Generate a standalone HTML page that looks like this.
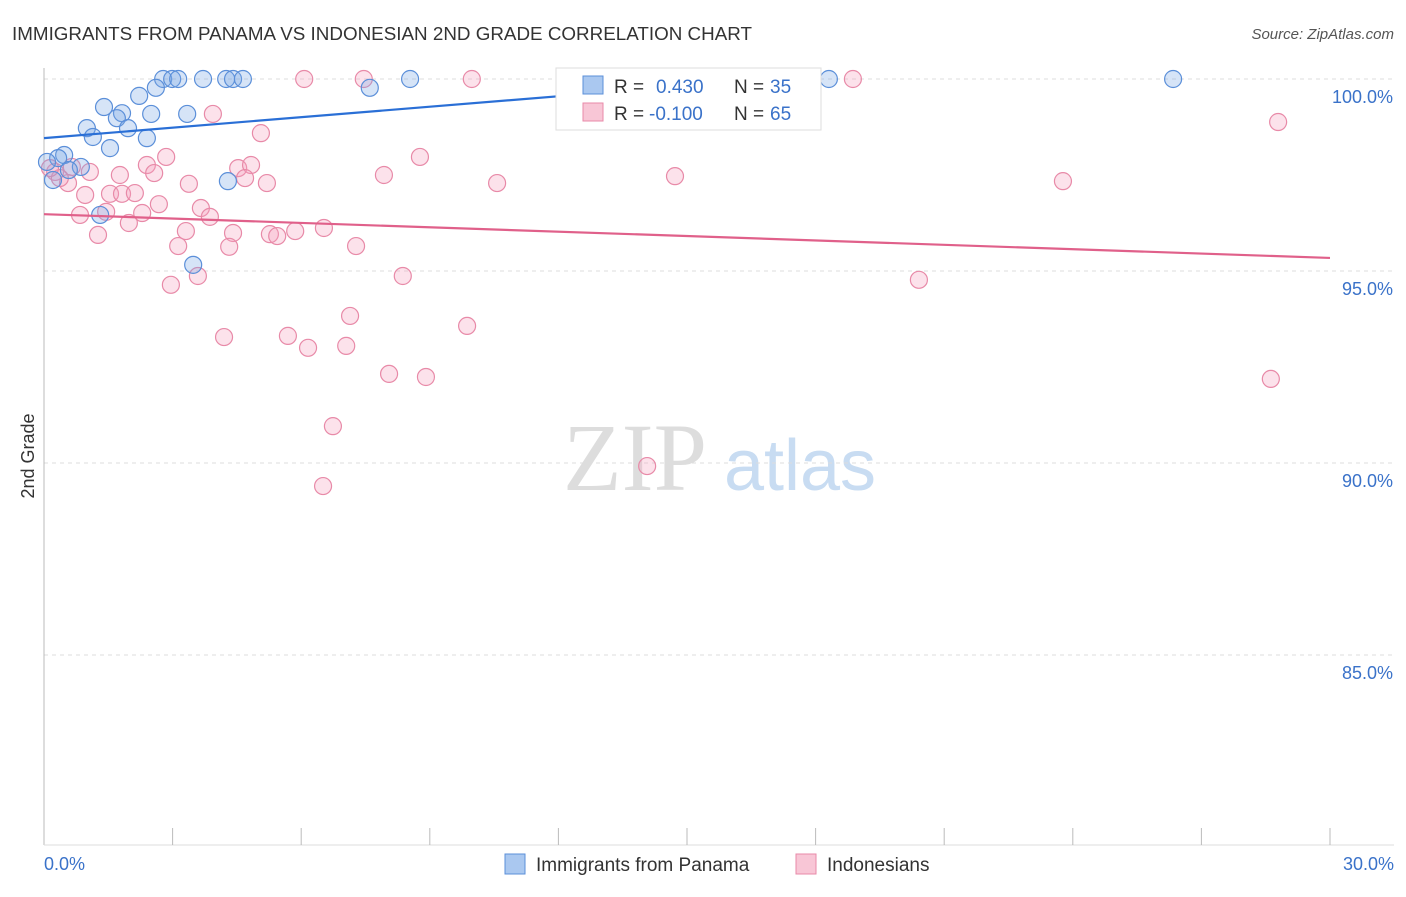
<!DOCTYPE html>
<html><head><meta charset="utf-8"><style>
body{margin:0;background:#fff;font-family:"Liberation Sans",sans-serif;}
</style></head><body>
<svg width="1406" height="892" xmlns="http://www.w3.org/2000/svg" id="chart">
<text x="12" y="40" font-size="18" fill="#333" textLength="740" lengthAdjust="spacingAndGlyphs">IMMIGRANTS FROM PANAMA VS INDONESIAN 2ND GRADE CORRELATION CHART</text>
<text x="1394" y="39" font-size="15" fill="#555" font-style="italic" text-anchor="end">Source: ZipAtlas.com</text>
<text x="34" y="456" font-size="18" fill="#333" text-anchor="middle" transform="rotate(-90 34 456)">2nd Grade</text>
<g><text x="635" y="490" font-size="96" fill="#ddd" font-family="Liberation Serif,serif" text-anchor="middle">ZIP</text><text x="800" y="490" font-size="72" fill="#c8dcf2" text-anchor="middle">atlas</text></g>
<g id="grid"></g><g id="axes"></g><g id="marks"></g>
<g>
<rect x="556" y="68" width="265" height="62" fill="#fff" stroke="#ddd"/>
<rect x="583" y="76" width="20" height="18" fill="#aac8f0" stroke="#5b8fd9"/>
<text x="614" y="93" font-size="19" fill="#333">R =</text>
<text x="656" y="93" font-size="19" fill="#3a72c9">0.430</text>
<text x="734" y="93" font-size="19" fill="#333">N =</text>
<text x="770" y="93" font-size="19" fill="#3a72c9">35</text>
<rect x="583" y="103" width="20" height="18" fill="#f8c6d6" stroke="#e88aa8"/>
<text x="614" y="120" font-size="19" fill="#333">R =</text>
<text x="649" y="120" font-size="19" fill="#3a72c9">-0.100</text>
<text x="734" y="120" font-size="19" fill="#333">N =</text>
<text x="770" y="120" font-size="19" fill="#3a72c9">65</text>
</g>
<g>
<rect x="505" y="854" width="20" height="20" fill="#aac8f0" stroke="#5b8fd9"/>
<text x="536" y="871" font-size="19" fill="#333">Immigrants from Panama</text>
<rect x="796" y="854" width="20" height="20" fill="#f8c6d6" stroke="#e88aa8"/>
<text x="827" y="871" font-size="19" fill="#333">Indonesians</text>
</g>
</svg>
<script>
const yTicks=[100,95,90,85];
const yTickLabels=["100.0%","95.0%","90.0%","85.0%"];
const xTickLabels=["0.0%","30.0%"];
const blueX=[2.78,2.99,3.13,3.71,4.25,4.41,4.64,8.54,14.67,18.31,26.34,2.61,7.60,2.22,1.40,1.82,3.34,2.50,1.70,1.00,1.96,2.40,1.14,1.54,0.47,0.33,0.86,0.58,0.07,0.21,1.31,4.29,3.48];
const blueY=[100,100,100,100,100,100,100,100,100,100,100,99.77,99.77,99.56,99.27,99.11,99.09,99.09,98.98,98.72,98.72,98.46,98.49,98.20,98.02,97.94,97.71,97.63,97.84,97.37,96.46,97.34,95.16];
const pinkX=[6.07,7.46,9.98,18.87,3.94,28.79,5.06,2.85,8.77,2.40,4.53,4.83,1.07,1.77,2.57,7.93,14.72,23.77,10.57,3.38,5.20,4.69,0.56,0.96,1.54,1.82,2.12,2.68,3.66,3.87,0.84,1.45,2.29,1.98,3.31,4.41,5.27,5.44,5.86,6.53,1.26,3.13,4.32,7.28,8.37,20.41,3.59,2.96,7.14,9.87,4.20,5.69,6.16,7.05,8.05,8.91,28.62,6.74,14.07,6.51,0.26,0.37,0.14,0.65];
const pinkY=[100,100,100,100,99.09,98.88,98.59,97.97,97.97,97.76,97.68,97.76,97.58,97.50,97.55,97.50,97.47,97.34,97.29,97.27,97.29,97.42,97.29,96.98,97.01,97.01,97.03,96.74,96.64,96.41,96.46,96.54,96.51,96.25,96.04,95.99,95.96,95.91,96.04,96.12,95.94,95.65,95.63,95.65,94.87,94.77,94.87,94.64,93.83,93.57,93.28,93.31,93.00,93.05,92.32,92.24,92.19,90.96,89.92,89.40,97.58,97.42,97.68,97.71];
const blueTrend=[[0,98.46],[16.94,100]];
const pinkTrend=[[0,96.48],[30,95.34]];
const NS="http://www.w3.org/2000/svg";
const X0=44,X1=1330,YTOP=79;
function sx(v){return X0+(v/30)*(X1-X0);}
function sy(v){return YTOP+(100-v)/5*192;}
function mk(t,a,p){const e=document.createElementNS(NS,t);for(const k in a)e.setAttribute(k,a[k]);document.getElementById(p).appendChild(e);return e;}
yTicks.forEach((t,i)=>{
 const l=mk('line',{x1:X0,x2:1394,y1:sy(t),y2:sy(t),stroke:'#ddd','stroke-dasharray':'4,4'},'grid');
 
 
 const tx=mk('text',{x:1393,y:sy(t)+24,'font-size':18,fill:'#3a72c9','text-anchor':'end'},'axes');
 tx.textContent=yTickLabels[i];
 
 
});
const ya=mk('line',{x1:X0,x2:X0,y1:68,y2:845,stroke:'#bbb'},'axes');


const xa=mk('line',{x1:X0,x2:1394,y1:845,y2:845,stroke:'#ddd'},'axes');


for(let i=1;i<=10;i++){
 const t=mk('line',{x1:sx(i*3),x2:sx(i*3),y1:828,y2:845,stroke:'#bbb'},'axes');
 
 
}
[[0,'start',44],[30,'end',1394]].forEach((d,i)=>{
 const t=mk('text',{x:d[2],y:870,'font-size':18,fill:'#3a72c9','text-anchor':d[1]},'axes');
 t.textContent=xTickLabels[i];
 
 
});
function pts(xs,ys,fill,stroke,name){
 xs.forEach((x,i)=>{
  const c=mk('circle',{cx:sx(x),cy:sy(ys[i]),r:8.5,fill:fill,stroke:stroke,'stroke-width':1.2},'marks');
  
  
 });
}
pts(pinkX,pinkY,'rgba(244,160,190,0.3)','#e88aa8','indonesian-point');
pts(blueX,blueY,'rgba(120,165,230,0.3)','#5b8fd9','panama-point');
function trend(tr,col,name){
 const l=mk('line',{x1:sx(tr[0][0]),y1:sy(tr[0][1]),x2:sx(tr[1][0]),y2:sy(tr[1][1]),stroke:col,'stroke-width':2.2},'marks');
 
 
}
trend(blueTrend,'#2a6fd6','panama-trend-line');
trend(pinkTrend,'#e0608a','indonesian-trend-line');
</script>
</body></html>
